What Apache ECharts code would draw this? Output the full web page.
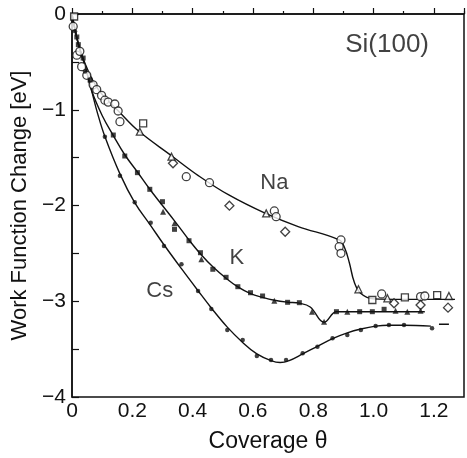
<!DOCTYPE html>
<html><head><meta charset="utf-8">
<script src="https://cdn.jsdelivr.net/npm/echarts@6/dist/echarts.min.js"></script>
<style>html,body{margin:0;padding:0;background:#fff}#c{width:467px;height:458px}</style>
</head><body><div id="c"></div>
<script>
// ---- data (coverage θ, work function change eV) ----
const naCurve = [[0,0],[0.02,-0.3],[0.045,-0.53],[0.07,-0.7],[0.1,-0.84],[0.153,-1.01],[0.22,-1.22],[0.33,-1.48],[0.42,-1.69],[0.52,-1.89],[0.64,-2.08],[0.75,-2.22],[0.886,-2.36],[0.905,-2.45],[0.92,-2.6],[0.936,-2.8],[0.958,-2.92],[1.0,-2.975],[1.1,-2.98],[1.27,-2.98]];
const kCurve = [[0,0],[0.02,-0.3],[0.045,-0.56],[0.065,-0.8],[0.1,-1.06],[0.137,-1.27],[0.175,-1.47],[0.217,-1.65],[0.258,-1.83],[0.3,-2.0],[0.34,-2.16],[0.388,-2.36],[0.43,-2.52],[0.467,-2.64],[0.511,-2.76],[0.55,-2.85],[0.592,-2.92],[0.632,-2.96],[0.671,-2.99],[0.715,-3.01],[0.754,-3.02],[0.79,-3.06],[0.836,-3.22],[0.877,-3.11],[0.913,-3.11],[1.0,-3.11],[1.17,-3.11]];
const csCurve = [[0,0],[0.02,-0.3],[0.045,-0.56],[0.065,-0.8],[0.085,-1.04],[0.109,-1.28],[0.159,-1.67],[0.208,-1.97],[0.261,-2.21],[0.305,-2.41],[0.363,-2.66],[0.418,-2.89],[0.462,-3.07],[0.515,-3.27],[0.566,-3.43],[0.613,-3.55],[0.66,-3.62],[0.69,-3.64],[0.72,-3.62],[0.765,-3.55],[0.814,-3.47],[0.864,-3.39],[0.913,-3.33],[0.958,-3.29],[1.007,-3.26],[1.05,-3.25],[1.1,-3.25],[1.19,-3.26]];
const csDash = [[1.217,-3.24],[1.25,-3.24]];

const naCircles = [[0.004,-0.13],[0.016,-0.43],[0.026,-0.39],[0.032,-0.55],[0.049,-0.64],[0.07,-0.74],[0.082,-0.79],[0.098,-0.85],[0.109,-0.9],[0.12,-0.92],[0.142,-0.94],[0.153,-1.013],[0.159,-1.125],[0.379,-1.699],[0.456,-1.762],[0.671,-2.057],[0.677,-2.117],[0.892,-2.36],[0.886,-2.43],[0.892,-2.499],[1.027,-2.924],[1.156,-2.952],[1.17,-2.945]];
const naSquares = [[0.007,-0.026],[0.236,-1.142],[0.996,-2.987],[1.104,-2.959],[1.211,-2.935]];
const naDiamonds = [[0.335,-1.559],[0.522,-2.002],[0.707,-2.274],[1.068,-3.021],[1.247,-3.067],[1.156,-3.039]];
const naTriangles = [[0.225,-1.229],[0.33,-1.49],[0.644,-2.082],[0.95,-2.875],[1.046,-2.969],[1.25,-2.945]];

const kSquares = [[0.016,-0.24],[0.021,-0.32],[0.037,-0.46],[0.06,-0.69],[0.137,-1.264],[0.175,-1.483],[0.217,-1.657],[0.258,-1.831],[0.3,-1.96],[0.34,-2.249],[0.388,-2.368],[0.426,-2.493],[0.467,-2.666],[0.511,-2.75],[0.55,-2.848],[0.592,-2.911],[0.632,-2.945],[0.715,-3.011],[0.754,-3.015],[0.877,-3.109],[0.954,-3.109],[0.996,-3.109],[1.035,-3.084]];
const kTriangles = [[0.302,-2.065],[0.34,-2.186],[0.429,-2.562],[0.671,-2.994],[0.796,-3.109],[0.836,-3.214],[0.913,-3.109],[1.073,-3.099],[1.112,-3.109],[1.156,-3.099]];

const csDots = [[0.01,-0.18],[0.043,-0.6],[0.109,-1.281],[0.159,-1.688],[0.208,-1.967],[0.261,-2.179],[0.305,-2.423],[0.363,-2.614],[0.418,-2.893],[0.462,-3.081],[0.515,-3.3],[0.566,-3.405],[0.613,-3.572],[0.66,-3.614],[0.71,-3.614],[0.765,-3.544],[0.814,-3.474],[0.864,-3.387],[0.913,-3.352],[0.958,-3.3],[1.007,-3.258],[1.051,-3.248],[1.101,-3.248],[1.194,-3.283]];

const annotations = [
  {text:'Na', pos:[0.671,-1.765], size:22},
  {text:'K', pos:[0.547,-2.551], size:22},
  {text:'Cs', pos:[0.291,-2.893], size:22},
  {text:'Si(100)', pos:[1.045,-0.324], size:26}
];

const FONT = "'Liberation Sans', Arial, sans-serif";
const chart = echarts.init(document.getElementById('c'), null, {renderer:'canvas'});

function curve(d){
  return {type:'line', data:d, smooth:0.4, showSymbol:false, symbol:'none',
    lineStyle:{color:'#111', width:1.4}, z:2, silent:true};
}
function marks(d, symbol, size, filled){
  return {type:'scatter', data:d, symbol:symbol, symbolSize:size,
    itemStyle:{color: filled ? '#111' : '#fff', borderColor:'#111', borderWidth: filled ? 0 : 1.3}, z:3, silent:true};
}

chart.setOption({
  animation:false,
  backgroundColor:'#fff',
  grid:{left:72, right:2, top:14, bottom:61, show:true, borderColor:'#111', borderWidth:1.5, backgroundColor:'transparent'},
  xAxis:{type:'value', min:0, max:1.3, interval:0.2,
    name:'Coverage θ', nameLocation:'middle', nameGap:33,
    nameTextStyle:{fontFamily:FONT, fontSize:23, color:'#111'},
    axisLine:{show:true, lineStyle:{color:'#111', width:1.5}},
    axisTick:{show:true, inside:true, length:6, lineStyle:{color:'#111', width:1.2}},
    minorTick:{show:true, splitNumber:2, length:3, lineStyle:{color:'#111', width:1.2}},
    splitLine:{show:false},
    axisLabel:{fontFamily:FONT, fontSize:21, color:'#111', margin:4,
      formatter:function(v){
        if (v > 1.21) return '';
        if (Math.abs(v*5 - Math.round(v*5)) > 1e-6) return '';
        return v === 0 ? '0' : v.toFixed(1);
      }}
  },
  yAxis:{type:'value', min:-4, max:0, interval:0.5,
    name:'Work Function Change [eV]', nameLocation:'middle', nameGap:39,
    nameTextStyle:{fontFamily:FONT, fontSize:22, color:'#111'},
    axisLine:{show:true, lineStyle:{color:'#111', width:1.5}},
    axisTick:{show:true, inside:true, length:7, lineStyle:{color:'#111', width:1.2}},
    splitLine:{show:false},
    axisLabel:{fontFamily:FONT, fontSize:21, color:'#111', margin:6,
      formatter:function(v){
        if (Math.abs(v - Math.round(v)) > 1e-6) return '';
        return v === 0 ? '0' : '\u2212' + Math.abs(Math.round(v));
      }}
  },
  series:[
    curve(naCurve), curve(kCurve), curve(csCurve), curve(csDash),
    marks(naCircles,'circle',8,false),
    marks(naSquares,'rect',7,false),
    marks(naDiamonds,'diamond',9,false),
    marks(naTriangles,'triangle',7,false),
    marks(kSquares,'rect',5,true),
    marks(kTriangles,'triangle',6,true),
    marks(csDots,'circle',4.5,true),
    {type:'scatter', symbolSize:0, silent:true, z:4,
      data: annotations.map(a => ({value:a.pos, label:{show:true, position:'inside', formatter:a.text,
        fontFamily:FONT, fontSize:a.size, color:'#111'}}))}
  ]
});
</script></body></html>
